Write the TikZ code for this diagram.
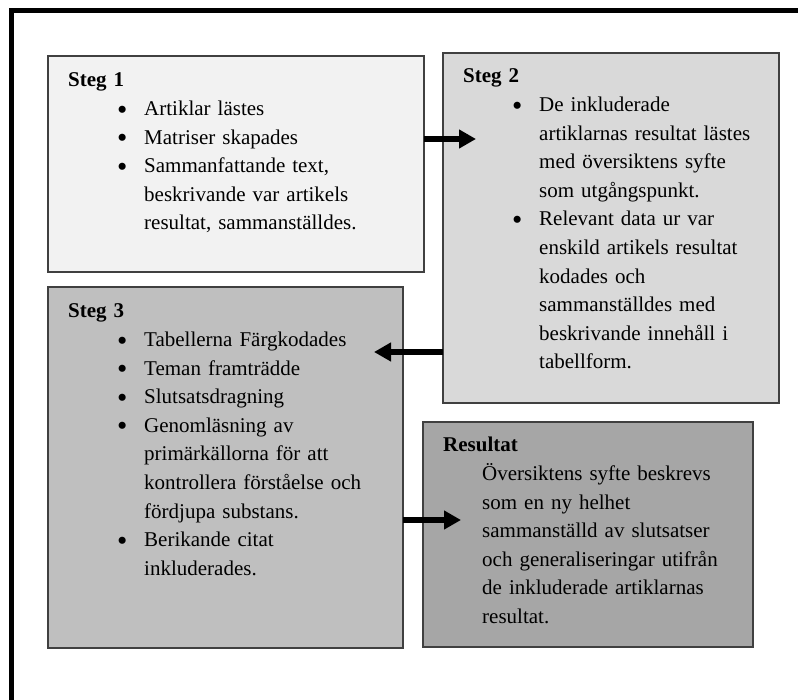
\documentclass[tikz,border=0pt]{standalone}
\usepackage{fontspec}
\setmainfont{Liberation Serif}
\usetikzlibrary{arrows.meta,positioning,calc}
\usepackage{xcolor}
\definecolor{fyll1}{HTML}{F2F2F2}
\definecolor{fyll2}{HTML}{D9D9D9}
\definecolor{fyll3}{HTML}{BFBFBF}
\definecolor{fyllres}{HTML}{A6A6A6}
\definecolor{kant}{HTML}{404040}
\newcommand{\brodtext}{\fontsize{21pt}{28.6pt}\selectfont}
\newcommand{\indrag}[1]{\par\noindent\hspace*{#1}}
\newcommand{\punkt}{\indrag{49pt}\makebox[27pt][l]{\raisebox{-3.5pt}{\scalebox{1.4}{\textbullet}}}}
\newcommand{\fortsatt}{\indrag{76pt}}

\begin{document}
\begin{tikzpicture}[
  x=1pt, y=-1pt,
  ruta/.style={rectangle, draw=kant, line width=1.4pt, anchor=north west, inner sep=0pt, outer sep=0pt},
  innehall/.style={anchor=base west, inner sep=0pt, text width=330pt, font=\brodtext},
  pil/.style={-{Triangle[length=17pt, width=18pt]}, line width=6pt},
  ram/.style={line width=5pt}
]
\useasboundingbox (0,0) rectangle (798,700);
\draw[ram] (11.5,700) -- (11.5,10.5) -- (798,10.5);
\node[ruta, fill=fyll1, minimum width=376pt, minimum height=216pt] (steg1) at (48,56) {};
\node[ruta, fill=fyll2, minimum width=336pt, minimum height=350pt] (steg2) at (443,53) {};
\node[ruta, fill=fyll3, minimum width=355pt, minimum height=361pt] (steg3) at (48,287) {};
\node[ruta, fill=fyllres, minimum width=330pt, minimum height=225pt] (result) at (423,422) {};
\node[innehall] (s1text) at ([shift={(20,31)}]steg1.north west) {\brodtext\textbf{Steg 1}
  \punkt Artiklar lästes
  \punkt Matriser skapades
  \punkt Sammanfattande text,
  \fortsatt beskrivande var artikels
  \fortsatt resultat, sammanställdes.};
\node[innehall] (s2text) at ([shift={(20,30)}]steg2.north west) {\brodtext\textbf{Steg 2}
  \punkt De inkluderade
  \fortsatt artiklarnas resultat lästes
  \fortsatt med översiktens syfte
  \fortsatt som utgångspunkt.
  \punkt Relevant data ur var
  \fortsatt enskild artikels resultat
  \fortsatt kodades och
  \fortsatt sammanställdes med
  \fortsatt beskrivande innehåll i
  \fortsatt tabellform.};
\node[innehall] (s3text) at ([shift={(20,31)}]steg3.north west) {\brodtext\textbf{Steg 3}
  \punkt Tabellerna Färgkodades
  \punkt Teman framträdde
  \punkt Slutsatsdragning
  \punkt Genomläsning av
  \fortsatt primärkällorna för att
  \fortsatt kontrollera förståelse och
  \fortsatt fördjupa substans.
  \punkt Berikande citat
  \fortsatt inkluderades.};
\node[innehall] (restext) at ([shift={(20,30)}]result.north west) {\brodtext\textbf{Resultat}
  \indrag{39pt}Översiktens syfte beskrevs
  \indrag{39pt}som en ny helhet
  \indrag{39pt}sammanställd av slutsatser
  \indrag{39pt}och generaliseringar utifrån
  \indrag{39pt}de inkluderade artiklarnas
  \indrag{39pt}resultat.};
\coordinate (pil1) at (476,139);
\coordinate (pil2) at (374,352);
\coordinate (pil3) at (461,520);
\draw[pil] (steg1.east |- pil1) -- (pil1);
\draw[pil] (steg2.west |- pil2) -- (pil2);
\draw[pil] (steg3.east |- pil3) -- (pil3);
\end{tikzpicture}
\end{document}
